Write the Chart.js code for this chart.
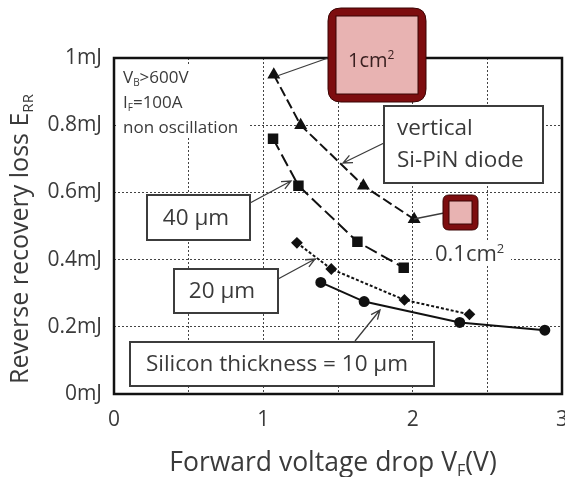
<!DOCTYPE html>
<html>
<head>
<meta charset="utf-8">
<script src="https://cdn.jsdelivr.net/npm/chart.js@4/dist/chart.umd.min.js"></script>
<style>
  html, body { margin: 0; padding: 0; background: #fff; }
  #wrap { width: 565px; height: 477px; }
</style>
</head>
<body>
<div id="wrap"><canvas id="c" width="565" height="477"></canvas></div>
<script>
// Forward voltage drop VF (V) and reverse recovery loss ERR (mJ) per device
const pinVf   = [1.07, 1.25, 1.67, 2.01];
const pinErr  = [0.95, 0.80, 0.62, 0.52];
const t40Vf   = [1.065, 1.235, 1.63, 1.94];
const t40Err  = [0.76, 0.62, 0.453, 0.376];
const t20Vf   = [1.225, 1.455, 1.945, 2.38];
const t20Err  = [0.45, 0.372, 0.28, 0.237];
const t10Vf   = [1.385, 1.675, 2.315, 2.885];
const t10Err  = [0.332, 0.275, 0.213, 0.19];

const yTickLabels = ['0mJ', '0.2mJ', '0.4mJ', '0.6mJ', '0.8mJ', '1mJ'];
const xTickLabels = ['0', '1', '2', '3'];

const FONT = '"Open Sans", Lato, sans-serif';
const TEXT = '#3a3a3a';

function pts(xs, ys) { return xs.map((x, i) => ({ x: x, y: ys[i] })); }

// Draw text made of runs; runs flagged sub/sup are smaller and shifted
function richText(ctx, runs, x, y, size, align) {
  const small = Math.round(size * 0.6);
  let total = 0;
  runs.forEach(r => {
    ctx.font = ((r.sub || r.sup) ? small : size) + 'px ' + FONT;
    r.w = ctx.measureText(r.t).width;
    total += r.w;
  });
  let cx = align === 'center' ? x - total / 2 : (align === 'right' ? x - total : x);
  ctx.textAlign = 'left';
  ctx.textBaseline = 'alphabetic';
  runs.forEach(r => {
    ctx.font = ((r.sub || r.sup) ? small : size) + 'px ' + FONT;
    const dy = r.sub ? size * 0.2 : (r.sup ? -size * 0.38 : 0);
    ctx.fillText(r.t, cx, y + dy);
    cx += r.w;
  });
}

function roundRect(ctx, x, y, w, h, r) {
  ctx.beginPath();
  ctx.moveTo(x + r, y);
  ctx.lineTo(x + w - r, y);
  ctx.quadraticCurveTo(x + w, y, x + w, y + r);
  ctx.lineTo(x + w, y + h - r);
  ctx.quadraticCurveTo(x + w, y + h, x + w - r, y + h);
  ctx.lineTo(x + r, y + h);
  ctx.quadraticCurveTo(x, y + h, x, y + h - r);
  ctx.lineTo(x, y + r);
  ctx.quadraticCurveTo(x, y, x + r, y);
  ctx.closePath();
}

function labelBox(ctx, x, y, w, h) {
  ctx.save();
  ctx.fillStyle = '#fff';
  ctx.fillRect(x, y, w, h);
  ctx.lineWidth = 2;
  ctx.strokeStyle = '#3c3c3c';
  ctx.strokeRect(x, y, w, h);
  ctx.restore();
}

function arrow(ctx, x1, y1, x2, y2, head) {
  ctx.save();
  ctx.strokeStyle = '#3c3c3c';
  ctx.lineWidth = 1.3;
  ctx.beginPath();
  ctx.moveTo(x1, y1);
  ctx.lineTo(x2, y2);
  if (head) {
    const a = Math.atan2(y2 - y1, x2 - x1);
    const L = 10, s = 0.42;
    ctx.moveTo(x2 - L * Math.cos(a - s), y2 - L * Math.sin(a - s));
    ctx.lineTo(x2, y2);
    ctx.lineTo(x2 - L * Math.cos(a + s), y2 - L * Math.sin(a + s));
  }
  ctx.stroke();
  ctx.restore();
}

function areaBox(ctx, x, y, w, h, r, bw) {
  ctx.save();
  roundRect(ctx, x, y, w, h, r);
  ctx.fillStyle = '#7d0d0f';
  ctx.fill();
  ctx.lineWidth = 1;
  ctx.strokeStyle = '#3a0505';
  ctx.stroke();
  ctx.fillStyle = '#e8b3b2';
  ctx.fillRect(x + bw, y + bw, w - 2 * bw, h - 2 * bw);
  ctx.strokeStyle = '#3a0505';
  ctx.strokeRect(x + bw, y + bw, w - 2 * bw, h - 2 * bw);
  ctx.restore();
}

const decorations = {
  id: 'decorations',
  afterDatasetsDraw(chart) {
    const ctx = chart.ctx;
    const a = chart.chartArea;
    ctx.save();

    // plot frame
    ctx.strokeStyle = '#111';
    ctx.lineWidth = 2.5;
    ctx.strokeRect(a.left, a.top, a.right - a.left, a.bottom - a.top);

    // measurement conditions
    ctx.fillStyle = '#fff';
    ctx.fillRect(118, 64, 132, 74);
    ctx.fillStyle = TEXT;
    richText(ctx, [{ t: 'V' }, { t: 'B', sub: true }, { t: '>600V' }], 123, 83, 17, 'left');
    richText(ctx, [{ t: 'I' }, { t: 'F', sub: true }, { t: '=100A' }], 123, 108, 17, 'left');
    richText(ctx, [{ t: 'non oscillation' }], 123, 133, 17, 'left');

    // chip area markers
    arrow(ctx, 328, 58, 277, 76, false);
    areaBox(ctx, 328, 8, 98, 94, 13, 8);
    ctx.fillStyle = '#3a2020';
    richText(ctx, [{ t: '1cm' }, { t: '2', sup: true }], 348, 67, 20, 'left');

    arrow(ctx, 444, 213, 414, 219, false);
    areaBox(ctx, 443, 195, 35, 35, 6, 6);

    ctx.fillStyle = '#fff';
    ctx.fillRect(433, 241, 78, 24);
    ctx.fillStyle = TEXT;
    richText(ctx, [{ t: '0.1cm' }, { t: '2', sup: true }], 435, 261, 22, 'left');

    // series labels
    const labelFont = '22.5px ' + FONT;
    arrow(ctx, 384, 143, 343, 163, true);
    labelBox(ctx, 384, 106, 159, 77);
    ctx.fillStyle = TEXT;
    ctx.font = labelFont;
    ctx.textAlign = 'left';
    ctx.textBaseline = 'middle';
    ctx.fillText('vertical', 397, 129);
    ctx.fillText('Si-PiN diode', 397, 161);

    arrow(ctx, 250, 203, 291, 181, true);
    labelBox(ctx, 147, 195, 103, 45);
    ctx.fillStyle = TEXT;
    ctx.font = labelFont;
    ctx.textAlign = 'center';
    ctx.fillText('40 \u00b5m', 196, 219);

    arrow(ctx, 278, 279, 315, 259, true);
    labelBox(ctx, 174, 269, 104, 44);
    ctx.fillStyle = TEXT;
    ctx.font = labelFont;
    ctx.textAlign = 'center';
    ctx.fillText('20 \u00b5m', 222, 292);

    arrow(ctx, 355, 341, 380, 310, true);
    labelBox(ctx, 130, 342, 304, 44);
    ctx.fillStyle = TEXT;
    ctx.font = labelFont;
    ctx.textAlign = 'center';
    ctx.fillText('Silicon thickness = 10 \u00b5m', 277, 365);

    // axis titles
    ctx.fillStyle = TEXT;
    richText(ctx, [{ t: 'Forward voltage drop V' }, { t: 'F', sub: true }, { t: '(V)' }], 333, 471, 26.5, 'center');
    ctx.save();
    ctx.translate(28, 239);
    ctx.rotate(-Math.PI / 2);
    richText(ctx, [{ t: 'Reverse recovery loss E' }, { t: 'RR', sub: true }], 0, 0, 25, 'center');
    ctx.restore();

    ctx.restore();
  }
};

const gridStyle = { color: '#444', lineWidth: 1, drawTicks: false };

new Chart(document.getElementById('c'), {
  type: 'scatter',
  data: {
    datasets: [
      { label: 'vertical Si-PiN diode', data: pts(pinVf, pinErr), showLine: true,
        borderColor: '#111', backgroundColor: '#111', borderWidth: 2, borderDash: [10, 4],
        pointStyle: 'triangle', pointRadius: 5.5 },
      { label: '40 \u00b5m', data: pts(t40Vf, t40Err), showLine: true,
        borderColor: '#111', backgroundColor: '#111', borderWidth: 2, borderDash: [13, 5],
        pointStyle: 'rect', pointRadius: 6 },
      { label: '20 \u00b5m', data: pts(t20Vf, t20Err), showLine: true,
        borderColor: '#111', backgroundColor: '#111', borderWidth: 2, borderDash: [3, 2],
        pointStyle: 'rectRot', pointRadius: 4.5 },
      { label: '10 \u00b5m', data: pts(t10Vf, t10Err), showLine: true,
        borderColor: '#111', backgroundColor: '#111', borderWidth: 2,
        pointStyle: 'circle', pointRadius: 4.5 }
    ]
  },
  options: {
    responsive: false,
    animation: false,
    layout: { autoPadding: false, padding: { left: 0, right: 3, top: 58, bottom: 0 } },
    plugins: { legend: { display: false }, tooltip: { enabled: false } },
    scales: {
      x: {
        type: 'linear', min: 0, max: 3,
        afterFit(s) { s.height = 83; s.paddingLeft = 0; s.paddingRight = 0; },
        grid: gridStyle,
        border: { display: false, dash: [2, 2] },
        ticks: {
          stepSize: 0.5, autoSkip: false, maxRotation: 0, padding: 13, color: TEXT,
          font: { family: FONT, size: 21 },
          callback: v => Number.isInteger(v) ? xTickLabels[v] : ''
        }
      },
      y: {
        type: 'linear', min: 0, max: 1,
        afterFit(s) { s.width = 114; s.paddingTop = 0; s.paddingBottom = 0; },
        grid: gridStyle,
        border: { display: false, dash: [2, 2] },
        ticks: {
          stepSize: 0.2, autoSkip: false, padding: 12, color: TEXT,
          font: { family: FONT, size: 21 },
          callback: v => yTickLabels[Math.round(v / 0.2)]
        }
      }
    }
  },
  plugins: [decorations]
});
</script>
</body>
</html>
